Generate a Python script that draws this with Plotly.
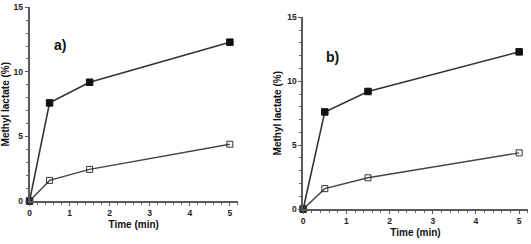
import plotly.graph_objects as go

time = [0, 0.5, 1.5, 5]
filled = [0, 7.6, 9.2, 12.3]
open_ = [0, 1.6, 2.45, 4.4]
panel_labels = ["a)", "b)"]

fig = go.Figure()
axes = [("x", "y"), ("x2", "y2")]
for (xa, ya) in axes:
    fig.add_trace(go.Scatter(x=time, y=filled, xaxis=xa, yaxis=ya, mode="lines+markers",
                             line=dict(color="#333333", width=1.6),
                             marker=dict(symbol="square", size=6.5, color="#111111",
                                         line=dict(color="#111111", width=1)),
                             cliponaxis=False, showlegend=False))
    fig.add_trace(go.Scatter(x=time, y=open_, xaxis=xa, yaxis=ya, mode="lines+markers",
                             line=dict(color="#444444", width=1.4),
                             marker=dict(symbol="square-open", size=6, color="#333333",
                                         line=dict(width=1)),
                             cliponaxis=False, showlegend=False))

ax_common = dict(showgrid=False, zeroline=False, showline=True, linecolor="#5a5a5a", linewidth=1.5,
                 ticks="outside", ticklen=3, tickwidth=1.2, tickcolor="#555555", automargin=False,
                 tickfont=dict(family="Liberation Sans, Arial", size=8.5, color="#222222", weight="bold"),
                 minor=dict(ticks="outside", ticklen=2, tickcolor="#666666", tickwidth=1))

title_font = dict(family="Liberation Sans, Arial", size=10, color="#111111")

fig.update_layout(
    width=531, height=244, margin=dict(l=0, r=0, t=0, b=0),
    plot_bgcolor="white", paper_bgcolor="white",
    xaxis=dict(domain=[0.0556, 0.448], range=[0, 5.2], dtick=1, anchor="y", **ax_common,
               title=dict(text="<b>Time (min)</b>", font=title_font, standoff=4)),
    yaxis=dict(domain=[0.176, 0.970], range=[0, 15], dtick=5, anchor="x", **ax_common,
               title=dict(text="<b>Methyl lactate (%)</b>", font=title_font, standoff=4)),
    xaxis2=dict(domain=[0.571, 0.994], range=[0, 5.2], dtick=1, anchor="y2", **ax_common,
                title=dict(text="<b>Time (min)</b>", font=title_font, standoff=4)),
    yaxis2=dict(domain=[0.143, 0.929], range=[0, 15], dtick=5, anchor="x2", **ax_common,
                title=dict(text="<b>Methyl lactate (%)</b>", font=title_font, standoff=4)),
)

fig.add_annotation(x=0.76, y=12.1, xref="x", yref="y", text="<b>" + panel_labels[0] + "</b>",
                   showarrow=False, font=dict(family="Liberation Sans, Arial", size=14, color="#111111"))
fig.add_annotation(x=0.68, y=11.9, xref="x2", yref="y2", text="<b>" + panel_labels[1] + "</b>",
                   showarrow=False, font=dict(family="Liberation Sans, Arial", size=14, color="#111111"))

fig.write_html("out.html", config={"displayModeBar": False},
               post_script="document.body.style.margin='0';document.body.style.padding='0';")
